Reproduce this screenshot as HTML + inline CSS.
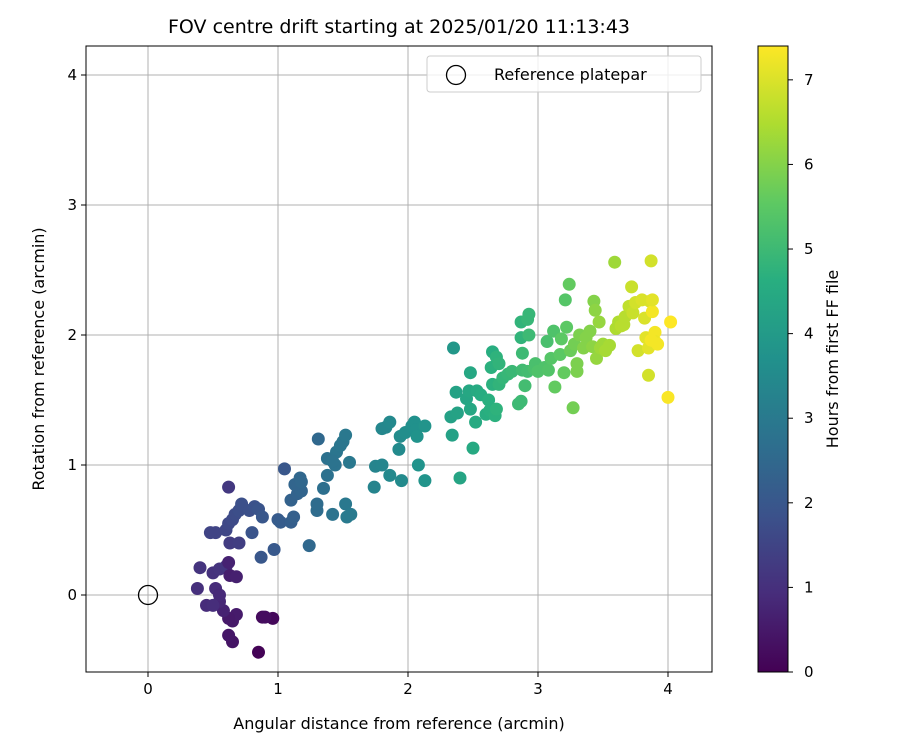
<!DOCTYPE html>
<html><head><meta charset="utf-8"><style>
body{margin:0;background:#fff;font-family:"Liberation Sans","DejaVu Sans",sans-serif}
</style></head><body>
<svg id="c" width="900" height="750" xmlns="http://www.w3.org/2000/svg" font-family="DejaVu Sans, Liberation Sans, sans-serif">
<defs><linearGradient id="vg" x1="0" y1="1" x2="0" y2="0">
<stop offset="0" stop-color="#440154"/><stop offset="0.125" stop-color="#472d7b"/><stop offset="0.25" stop-color="#3b528b"/><stop offset="0.375" stop-color="#2c728e"/><stop offset="0.5" stop-color="#21918c"/><stop offset="0.625" stop-color="#28ae80"/><stop offset="0.75" stop-color="#5ec962"/><stop offset="0.875" stop-color="#addc30"/><stop offset="1" stop-color="#fde725"/></linearGradient></defs>
<g id="grid"></g><g id="pts"></g><g id="axes"></g>
</svg>
<script>
const xTicks=[0,1,2,3,4];
const yTicks=[0,1,2,3,4];
const cTicks=[0,1,2,3,4,5,6,7];
const points=[
[0.85,-0.44,0.05],[0.88,-0.17,0.2],[0.96,-0.18,0.15],[0.9,-0.17,0.25],[0.65,-0.36,0.4],[0.62,-0.31,0.45],[0.65,-0.2,0.5],[0.68,-0.15,0.55],[0.62,-0.18,0.5],[0.58,-0.12,0.7],[0.55,-0.05,0.8],[0.52,0.05,0.9],[0.55,0.0,0.85],[0.45,-0.08,0.9],[0.5,-0.08,0.95],[0.38,0.05,1.0],[0.4,0.21,1.1],[0.5,0.17,1.05],[0.55,0.2,1.1],[0.6,0.22,1.15],[0.63,0.15,0.6],[0.68,0.14,0.65],[0.62,0.25,0.7],[0.63,0.4,1.3],[0.7,0.4,1.35],[0.52,0.48,1.5],[0.48,0.48,1.5],[0.6,0.5,1.55],[0.62,0.55,1.6],[0.65,0.58,1.65],[0.67,0.62,1.7],[0.7,0.65,1.75],[0.72,0.7,1.8],[0.62,0.83,1.2],[0.78,0.65,1.8],[0.82,0.68,1.85],[0.85,0.66,1.9],[0.8,0.48,1.9],[0.88,0.6,2.0],[0.87,0.29,2.0],[0.97,0.35,2.05],
[1.0,0.58,2.1],[1.05,0.97,2.0],[1.02,0.56,2.15],[1.1,0.56,2.2],[1.12,0.6,2.25],[1.1,0.73,2.3],[1.15,0.78,2.35],[1.18,0.8,2.4],[1.13,0.85,2.4],[1.17,0.9,2.45],[1.18,0.87,2.45],[1.24,0.38,2.5],[1.3,0.65,2.6],[1.3,0.7,2.6],[1.31,1.2,2.5],[1.35,0.82,2.7],[1.38,0.92,2.75],[1.38,1.05,2.75],[1.42,0.62,2.8],[1.44,1.0,2.8],[1.45,1.1,2.85],[1.48,1.15,2.9],[1.5,1.18,2.9],[1.52,1.23,2.95],[1.52,0.7,2.95],[1.53,0.6,3.0],[1.56,0.62,3.0],[1.42,1.03,2.8],[1.55,1.02,2.95],
[1.74,0.83,3.3],[1.75,0.99,3.3],[1.8,1.0,3.35],[1.8,1.28,3.4],[1.83,1.29,3.4],[1.86,1.33,3.45],[1.86,0.92,3.45],[1.93,1.12,3.5],[1.95,0.88,3.5],[1.94,1.22,3.55],[1.98,1.25,3.6],[2.03,1.3,3.65],[2.05,1.33,3.7],[2.06,1.27,3.7],[2.07,1.22,3.75],[2.08,1.0,3.75],[2.13,0.88,3.8],[2.13,1.3,3.8],
[2.33,1.37,4.2],[2.34,1.23,4.2],[2.35,1.9,3.9],[2.37,1.56,4.25],[2.38,1.4,4.25],[2.4,0.9,4.3],[2.45,1.51,4.35],[2.47,1.57,4.4],[2.48,1.71,4.4],[2.48,1.43,4.4],[2.5,1.13,4.45],[2.52,1.33,4.5],[2.53,1.57,4.5],[2.56,1.54,4.55],[2.6,1.39,4.6],[2.62,1.5,4.65],[2.63,1.42,4.65],[2.64,1.75,4.7],[2.65,1.87,4.6],[2.65,1.62,4.7],[2.67,1.38,4.7],[2.68,1.43,4.75],[2.68,1.83,4.75],[2.7,1.78,4.8],[2.7,1.62,4.8],[2.73,1.67,4.85],[2.77,1.7,4.9],[2.8,1.72,4.95],[2.85,1.47,5.0],[2.87,1.49,5.0],[2.88,1.73,5.05],[2.87,1.98,4.8],[2.87,2.1,4.8],[2.88,1.86,5.0],[2.9,1.61,5.1],[2.92,1.72,5.1],[2.92,2.12,4.9],[2.93,2.16,4.9],[2.93,2.0,5.0],
[2.97,1.74,5.2],[2.98,1.78,5.2],[3.0,1.72,5.3],[3.05,1.75,5.3],[3.07,1.95,5.2],[3.08,1.73,5.35],[3.1,1.82,5.4],[3.12,2.03,5.3],[3.13,1.6,5.6],[3.17,1.85,5.5],[3.18,1.97,5.5],[3.2,1.71,5.6],[3.21,2.27,5.4],[3.22,2.06,5.5],[3.24,2.39,5.6],[3.25,1.88,5.7],[3.27,1.44,5.8],[3.28,1.93,5.8],[3.3,1.78,5.9],[3.3,1.72,5.9],[3.32,2.0,5.9],[3.35,1.9,6.0],[3.37,1.98,6.0],[3.4,2.03,6.0],[3.42,1.91,6.1],[3.43,2.26,6.0],[3.44,2.19,6.1],[3.45,1.82,6.2],[3.47,2.1,6.2],[3.48,1.9,6.3],[3.5,1.93,6.3],[3.52,1.88,6.4],[3.55,1.92,6.4],[3.59,2.56,6.3],[3.6,2.05,6.5],[3.62,2.1,6.5],[3.64,2.07,6.6],[3.66,2.08,6.6],[3.67,2.14,6.6],[3.7,2.22,6.7],[3.72,2.37,6.8],[3.73,2.17,6.8],[3.75,2.25,6.9],[3.77,1.88,6.9],[3.8,2.27,7.0],[3.82,2.13,7.0],[3.83,1.98,7.1],[3.85,1.69,6.9],[3.85,1.9,7.1],[3.86,2.26,7.0],[3.87,2.57,6.9],[3.88,2.18,7.3],[3.88,2.27,7.1],[3.9,2.02,7.3],[3.9,1.95,7.2],[3.92,1.93,7.3],[3.87,1.96,7.3],[4.0,1.52,7.35],[4.02,2.1,7.4]
];
const NS="http://www.w3.org/2000/svg";
const L=86,R=712,T=46,B=672;
const sx=v=>148+v*130, sy=v=>595-v*130;
const cMin=0,cMax=7.4,cy=v=>672-(v-cMin)/(cMax-cMin)*626;
const vir=[[68,1,84],[71,45,123],[59,82,139],[44,114,142],[33,145,140],[40,174,128],[94,201,98],[173,220,48],[253,231,37]];
function col(t){let f=Math.max(0,Math.min(1,(t-cMin)/(cMax-cMin)))*8,i=Math.min(7,Math.floor(f)),r=f-i;const a=vir[i],b=vir[i+1];return `rgb(${a.map((v,k)=>Math.round(v+(b[k]-v)*r)).join(',')})`;}
function mk(tag,attrs,parent,text){const e=document.createElementNS(NS,tag);for(const k in attrs)e.setAttribute(k,attrs[k]);if(text!==undefined)e.textContent=text;parent.appendChild(e);return e;}
const grid=document.getElementById('grid'),pts=document.getElementById('pts'),ax=document.getElementById('axes');
xTicks.forEach(v=>{const g=mk('line',{x1:sx(v),x2:sx(v),y1:T,y2:B,stroke:'#b0b0b0','stroke-width':1},grid);});
yTicks.forEach(v=>{const g=mk('line',{x1:L,x2:R,y1:sy(v),y2:sy(v),stroke:'#b0b0b0','stroke-width':1},grid);});
points.forEach(p=>{const c=mk('circle',{cx:sx(p[0]),cy:sy(p[1]),r:6.5,fill:col(p[2])},pts);});
let ref=mk('circle',{cx:sx(0),cy:sy(0),r:9.5,fill:'none',stroke:'#000','stroke-width':1.3},ax);

let fr=mk('rect',{x:L,y:T,width:R-L,height:B-T,fill:'none',stroke:'#000','stroke-width':1},ax);

xTicks.forEach(v=>{mk('line',{x1:sx(v),x2:sx(v),y1:B,y2:B+5,stroke:'#000'},ax);const t=mk('text',{x:sx(v),y:B+22,'text-anchor':'middle','font-size':15},ax,String(v));});
yTicks.forEach(v=>{mk('line',{x1:L-5,x2:L,y1:sy(v),y2:sy(v),stroke:'#000'},ax);const t=mk('text',{x:L-9,y:sy(v)+5,'text-anchor':'end','font-size':15},ax,String(v));});
let e;
e=mk('text',{x:399,y:33,'text-anchor':'middle','font-size':19},ax,'FOV centre drift starting at 2025/01/20 11:13:43');
e=mk('text',{x:399,y:729,'text-anchor':'middle','font-size':16},ax,'Angular distance from reference (arcmin)');
e=mk('text',{x:44,y:359,'text-anchor':'middle','font-size':16,transform:'rotate(-90 44 359)'},ax,'Rotation from reference (arcmin)');
// legend
const lg=mk('g',{},ax);
mk('rect',{x:427,y:56,width:274,height:36,rx:3,fill:'#fff','fill-opacity':0.8,stroke:'#ccc'},lg);
e=mk('circle',{cx:456,cy:75,r:9.5,fill:'none',stroke:'#000','stroke-width':1.3},lg);
e=mk('text',{x:494,y:80,'font-size':16},lg,'Reference platepar');
// colorbar
e=mk('rect',{x:758,y:46,width:30,height:626,fill:'url(#vg)',stroke:'#000','stroke-width':1},ax);
cTicks.forEach(v=>{mk('line',{x1:788,x2:793,y1:cy(v),y2:cy(v),stroke:'#000'},ax);const t=mk('text',{x:804,y:cy(v)+5,'font-size':15},ax,String(v));});
e=mk('text',{x:838,y:359,'text-anchor':'middle','font-size':16,transform:'rotate(-90 838 359)'},ax,'Hours from first FF file');
</script>
</body></html>
